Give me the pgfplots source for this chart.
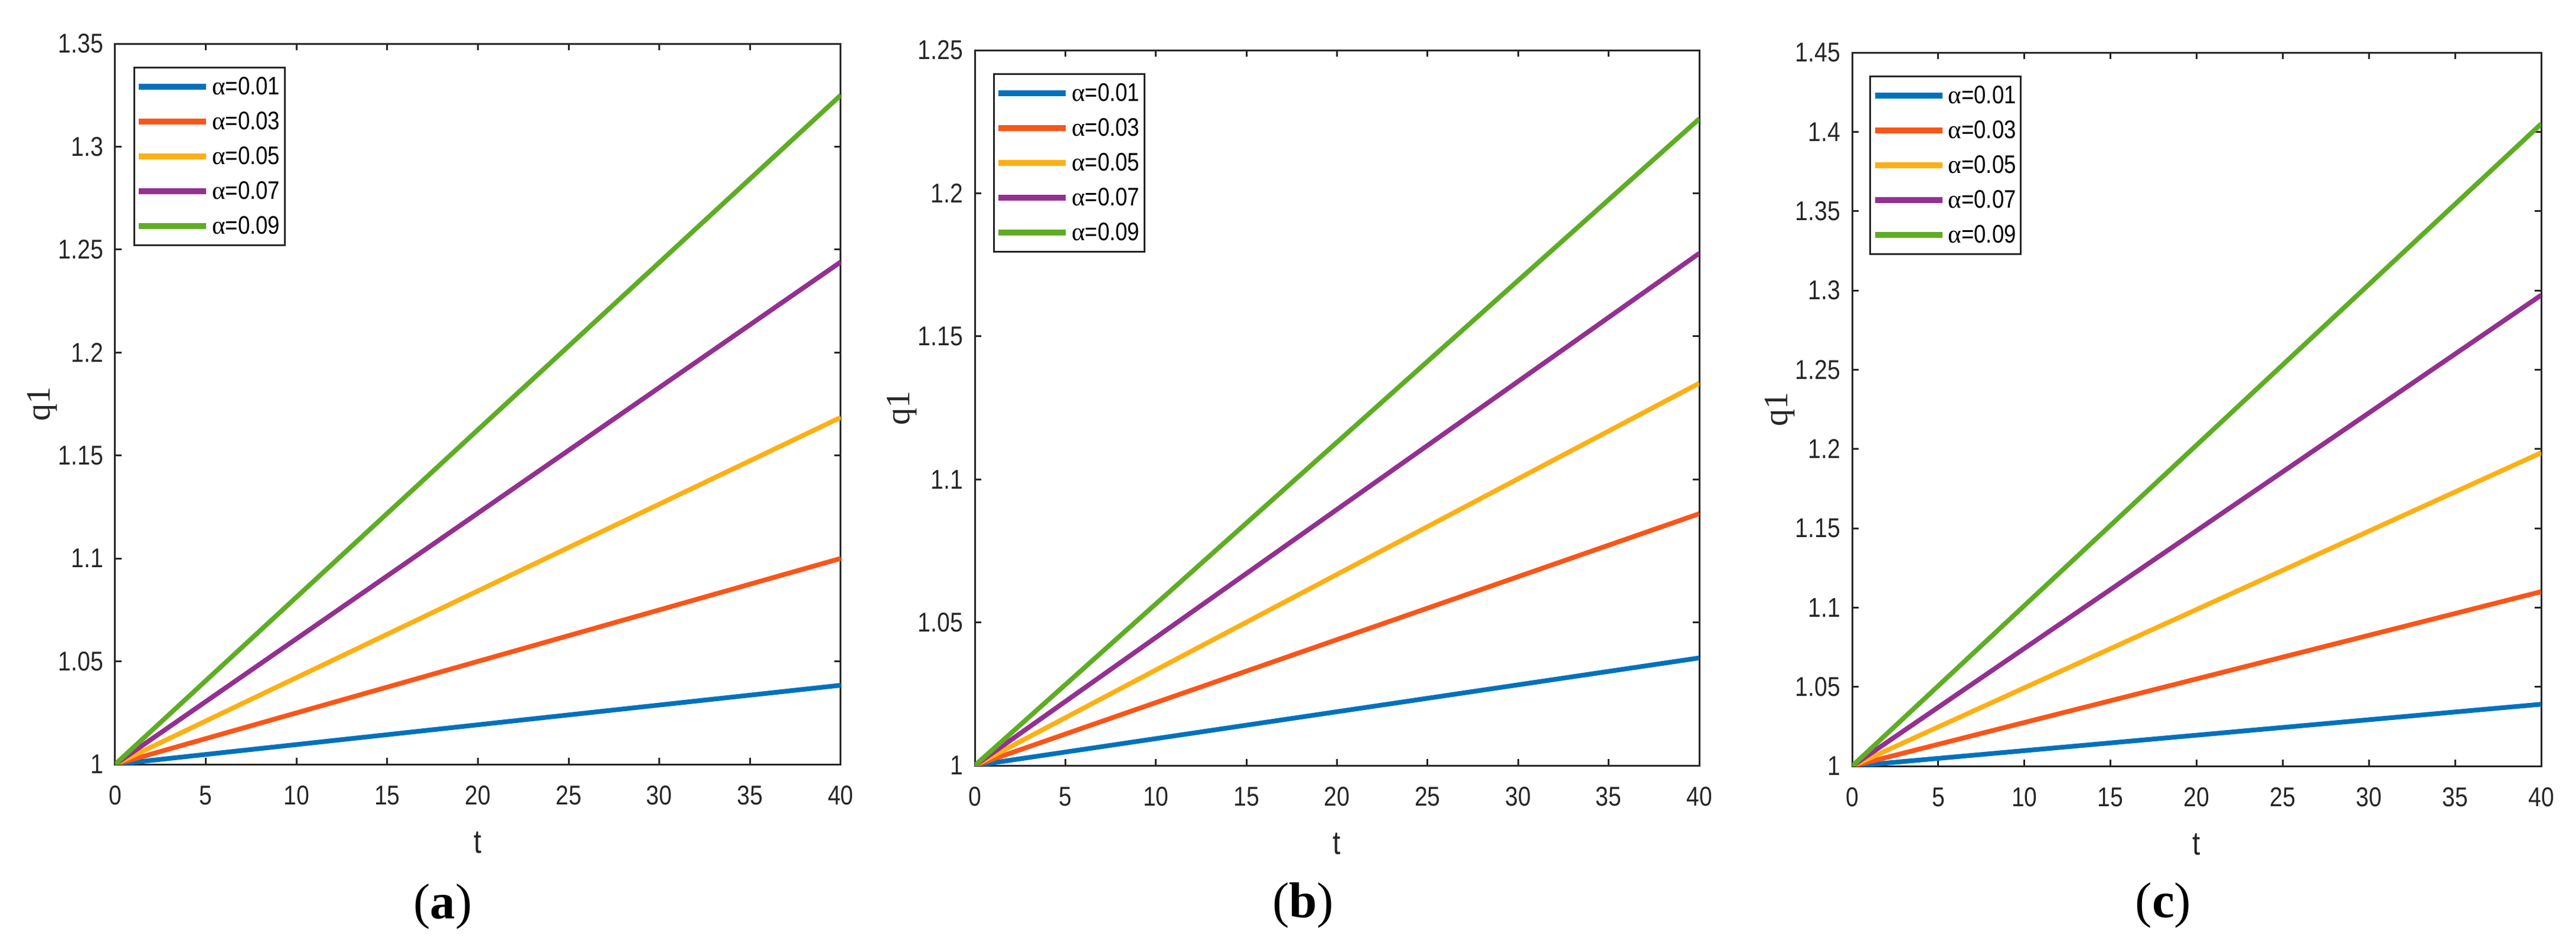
\documentclass[border=0pt]{standalone}
\usepackage{fontspec}
\setmainfont{Liberation Sans}[FakeStretch=0.85]
\newfontfamily\serif{Liberation Serif}
\usepackage{pgfplots}
\pgfplotsset{compat=1.18}
\definecolor{c1}{RGB}{0,114,189}
\definecolor{c2}{RGB}{250,85,25}
\definecolor{c3}{RGB}{253,176,20}
\definecolor{c4}{RGB}{148,48,145}
\definecolor{c5}{RGB}{94,173,35}
\definecolor{axc}{RGB}{38,38,38}
\pgfplotsset{panel/.style={
  scale only axis,
  xmin=0, xmax=40, ymin=1,
  xtick={0,5,10,15,20,25,30,35,40},
  axis line style={axc, line width=0.3pt},
  every tick/.style={axc, line width=0.3pt},
  tick align=inside, major tick length=1.1pt,
  /pgf/number format/assume math mode=true,
  ticklabel style={font=\fontsize{4.6}{5}\selectfont, text=axc},
  xticklabel style={anchor=center, yshift=-5.3pt},
  yticklabel style={anchor=east, inner sep=0pt, xshift=-1.8pt},
  xlabel={t},
  xlabel style={at={(axis description cs:0.5,0)}, anchor=center, yshift=-13.3pt, font=\fontsize{5.6}{6}\selectfont, text=axc},
  ylabel={\serif q1},
  ylabel style={at={(axis description cs:0,0.5)}, anchor=center, rotate=0, yshift=12.3pt, font=\fontsize{5.8}{6}\selectfont, text=axc},
  legend cell align=left,
  legend image code/.code={\draw[#1, line width=1pt] (0pt,0pt) -- (11.4pt,0pt);},
  legend style={at={(axis description cs:0.025,0.968)}, anchor=north west,
    draw=axc, line width=0.3pt, fill=white,
    font=\fontsize{4.3}{5}\selectfont,
    inner xsep=0.3pt, inner ysep=1pt, row sep=1.4pt,
    nodes={inner sep=0.5pt, text height=3.1pt, text depth=0.4pt}},
  every axis plot/.append style={line width=0.8pt},
}}
\begin{document}
\begin{tikzpicture}
\useasboundingbox (0,0) rectangle (436.3pt,161.2pt);
% (a)
\begin{axis}[panel, at={(19.5pt,31.7pt)}, anchor=south west,
  width=122.9pt, height=122.1pt, ymax=1.35,
  ytick={1,1.05,1.1,1.15,1.2,1.25,1.3,1.35}]
\addplot[c1] coordinates {(0,1) (40,1.0384)};
\addplot[c2] coordinates {(0,1) (40,1.1000)};
\addplot[c3] coordinates {(0,1) (40,1.1685)};
\addplot[c4] coordinates {(0,1) (40,1.2440)};
\addplot[c5] coordinates {(0,1) (40,1.3250)};
\legend{{\serif α}=0.01,{\serif α}=0.03,{\serif α}=0.05,{\serif α}=0.07,{\serif α}=0.09}
\end{axis}
% (b)
\begin{axis}[panel, at={(165.1pt,31.5pt)}, anchor=south west,
  width=122.7pt, height=121.2pt, ymax=1.25,
  ytick={1,1.05,1.1,1.15,1.2,1.25}]
\addplot[c1] coordinates {(0,1) (40,1.0376)};
\addplot[c2] coordinates {(0,1) (40,1.0880)};
\addplot[c3] coordinates {(0,1) (40,1.1336)};
\addplot[c4] coordinates {(0,1) (40,1.1790)};
\addplot[c5] coordinates {(0,1) (40,1.2260)};
\legend{{\serif α}=0.01,{\serif α}=0.03,{\serif α}=0.05,{\serif α}=0.07,{\serif α}=0.09}
\end{axis}
% (c)
\begin{axis}[panel, at={(313.7pt,31.4pt)}, anchor=south west,
  width=116.7pt, height=120.9pt, ymax=1.45,
  ytick={1,1.05,1.1,1.15,1.2,1.25,1.3,1.35,1.4,1.45}]
\addplot[c1] coordinates {(0,1) (40,1.0390)};
\addplot[c2] coordinates {(0,1) (40,1.1100)};
\addplot[c3] coordinates {(0,1) (40,1.1976)};
\addplot[c4] coordinates {(0,1) (40,1.2970)};
\addplot[c5] coordinates {(0,1) (40,1.4050)};
\legend{{\serif α}=0.01,{\serif α}=0.03,{\serif α}=0.05,{\serif α}=0.07,{\serif α}=0.09}
\end{axis}
\node[font=\serif\fontsize{8.5}{9}\selectfont] at (75.0pt,7.6pt) {(\textbf{a})};
\node[font=\serif\fontsize{8.5}{9}\selectfont] at (220.7pt,7.8pt) {(\textbf{b})};
\node[font=\serif\fontsize{8.5}{9}\selectfont] at (366.4pt,7.8pt) {(\textbf{c})};
\end{tikzpicture}
\end{document}
